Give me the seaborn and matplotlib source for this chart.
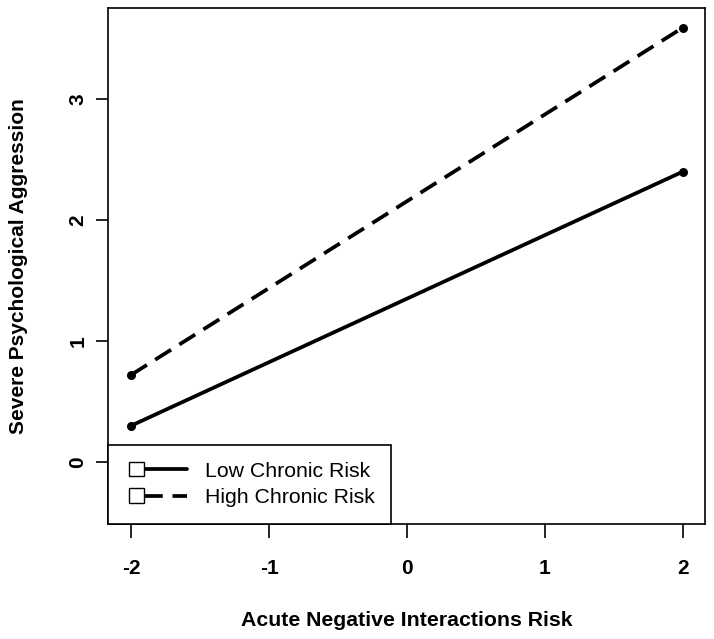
import pandas as pd
import seaborn as sns
from matplotlib import pyplot as plt
from matplotlib.lines import Line2D
from matplotlib.patches import Rectangle

# values
acute_risk = [-2, 2]
low_chronic = [0.30, 2.40]
high_chronic = [0.72, 3.59]
group_names = ["Low Chronic Risk", "High Chronic Risk"]
x_ticks = [-2, -1, 0, 1, 2]
y_ticks = [0, 1, 2, 3]

df = pd.DataFrame({
    "acute": acute_risk + acute_risk,
    "aggression": low_chronic + high_chronic,
    "group": [group_names[0]] * 2 + [group_names[1]] * 2,
})

DASH = (5.0, 2.6)

sns.set_style("white")
plt.rcParams["font.family"] = ["Liberation Sans", "DejaVu Sans"]
plt.rcParams["text.color"] = "black"
plt.rcParams["axes.labelcolor"] = "black"
plt.rcParams["xtick.color"] = "black"
plt.rcParams["ytick.color"] = "black"


class SquareLineHandler:
    """legend key like R: open square at the left, then the line"""

    def __init__(self, dashes, offset=3.2):
        self.dashes = dashes
        self.offset = offset

    def legend_artist(self, legend, orig_handle, fontsize, handlebox):
        x0, y0 = handlebox.xdescent + self.offset, handlebox.ydescent
        w, h = handlebox.width - self.offset, handlebox.height
        s = h * 0.95
        sq = Rectangle((x0, y0 + h / 2 - s / 2), s, s, facecolor="white",
                       edgecolor="black", lw=1.0, transform=handlebox.get_transform())
        ln = Line2D([x0 + s, x0 + w], [y0 + h / 2] * 2, color="black", lw=2.7,
                    transform=handlebox.get_transform())
        if self.dashes is not None:
            ln.set_dashes(self.dashes)
        handlebox.add_artist(ln)
        handlebox.add_artist(sq)
        return ln


fig = plt.figure(figsize=(7.14, 6.39), dpi=100)
ax = fig.add_axes([0.1513, 0.180, 0.8361, 0.8075])

sns.lineplot(data=df, x="acute", y="aggression", style="group",
             dashes={group_names[0]: "", group_names[1]: DASH},
             markers={group_names[0]: "o", group_names[1]: "o"},
             color="black", lw=2.7, markersize=6.5, markeredgewidth=0,
             legend=False, ax=ax)

ax.set_xlim(-2.167, 2.16)
ax.set_ylim(-0.512, 3.752)
ax.set_xticks(x_ticks)
ax.set_yticks(y_ticks)
ax.set_xticklabels([str(v) for v in x_ticks], fontsize=15, fontweight="bold")
ax.set_yticklabels([str(v) for v in y_ticks], fontsize=15, fontweight="bold",
                   rotation=90, va="center")
ax.tick_params(axis="x", bottom=True, length=10, width=1.2, pad=15)
ax.tick_params(axis="y", left=True, length=9, width=1.2, pad=6)
for sp in ax.spines.values():
    sp.set_color("black")
    sp.set_linewidth(1.2)

ax.set_xlabel("Acute Negative Interactions Risk", fontsize=15.3, fontweight="bold",
              labelpad=24)
ax.set_ylabel("Severe Psychological Aggression", fontsize=15, fontweight="bold",
              labelpad=29)

h_low = Line2D([], [], color="black")
h_high = Line2D([], [], color="black")
leg = ax.legend([h_low, h_high], group_names, loc="lower left",
                handler_map={h_low: SquareLineHandler(None),
                             h_high: SquareLineHandler(DASH)},
                fontsize=15.3, frameon=True, fancybox=False, borderaxespad=0,
                handlelength=2.9, handletextpad=0.84, borderpad=0.8,
                labelspacing=0.34)
leg.get_frame().set_edgecolor("black")
leg.get_frame().set_linewidth(1.2)
leg.get_frame().set_alpha(1)

fig.savefig("out.png", dpi=100)
